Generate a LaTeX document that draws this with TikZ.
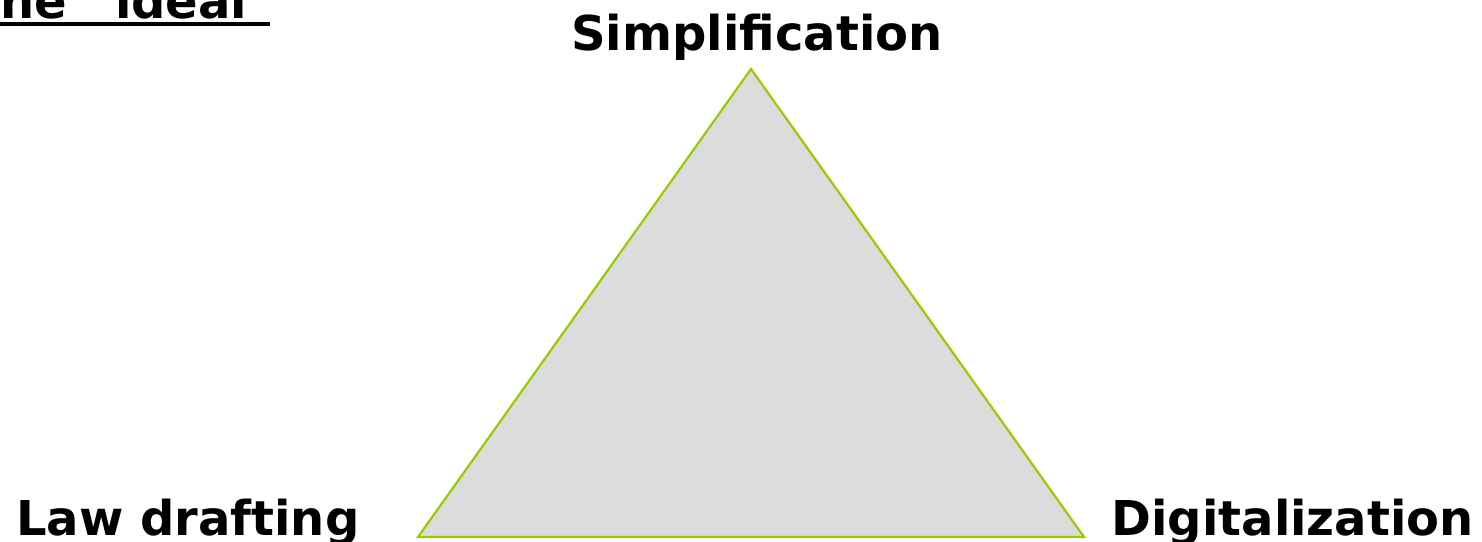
\documentclass[tikz,border=0pt]{standalone}
\usepackage{fontspec}
\setmainfont{DejaVu Sans}
\definecolor{trigreen}{RGB}{153,204,0}
\definecolor{trifill}{RGB}{220,220,220}
\tikzset{lbl/.style={font=\fontsize{48}{52}\selectfont\bfseries, inner sep=0pt, text=black}}
\begin{document}
\begin{tikzpicture}[x=1pt,y=-1pt]
\useasboundingbox (0,0) rectangle (1482,541);
\clip (0,0) rectangle (1482,541);
\coordinate (top) at (751,69);
\coordinate (bl) at (418,537);
\coordinate (br) at (1084,537);
\draw[trigreen, fill=trifill, line width=2.2pt, line join=miter] (top) -- (bl) -- (br) -- cycle;
\node[lbl, anchor=base] (simp) at (757,50) {Simplification};
\node[lbl, anchor=base west] (law) at (16,535) {Law drafting};
\node[lbl, anchor=base east] (dig) at (1474,535) {Digitalization};
\node[lbl, anchor=base west] (title) at (0,18) {ne “ideal”};
\draw[line width=3.5pt] (0,24) -- (270,24);
\end{tikzpicture}
\end{document}
